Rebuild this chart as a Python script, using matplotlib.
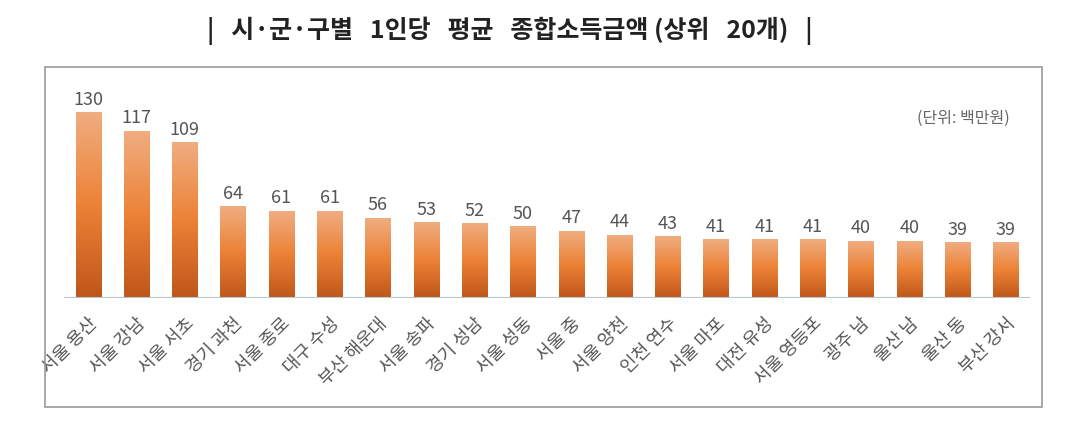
import numpy as np
import matplotlib.pyplot as plt
from matplotlib.colors import LinearSegmentedColormap
from matplotlib.patches import Rectangle

plt.rcParams['font.family'] = ['Noto Sans CJK KR', 'DejaVu Sans']

regions = ['서울 용산', '서울 강남', '서울 서초', '경기 과천', '서울 종로', '대구 수성',
           '부산 해운대', '서울 송파', '경기 성남', '서울 성동', '서울 중', '서울 양천',
           '인천 연수', '서울 마포', '대전 유성', '서울 영등포', '광주 남', '울산 남',
           '울산 동', '부산 강서']
income = [130, 117, 109, 64, 61, 61, 56, 53, 52, 50, 47, 44, 43, 41, 41, 41, 40, 40, 39, 39]

W, H = 1065, 427
fig = plt.figure(figsize=(W / 100, H / 100), dpi=100)

# outer frame
fig.add_artist(Rectangle((45 / W, 1 - 408 / H), (1042 - 45) / W, (408 - 68) / H,
                         transform=fig.transFigure, fill=False, ec='#9a9a9a', lw=1.2))

fig.text(510 / W, 1 - 31 / H, '|   시·군·구별   1인당   평균   종합소득금액 (상위   20개)   |',
         ha='center', va='center', fontsize=18, fontweight='bold', color='#222222')

ax = fig.add_axes([64 / W, 128 / H, 966 / W, 200 / H])
ax.set_xlim(-0.5, 19.5)
ax.set_ylim(0, 140.5)

cmap = LinearSegmentedColormap.from_list('bar', ['#bf561a', '#ec8236', '#f0ad80'])
grad = np.linspace(0, 1, 256).reshape(-1, 1)
bw = 0.52
for i, v in enumerate(income):
    ax.imshow(grad, cmap=cmap, origin='lower', aspect='auto',
              extent=(i - bw / 2, i + bw / 2, 0, v), zorder=2)
    ax.text(i, v + 3.5, str(v), ha='center', va='bottom', fontsize=13, color='#555555')

ax.axhline(0, color='#b8c4d0', lw=1.5, zorder=3)
ax.set_xlim(-0.5, 19.5)
ax.set_ylim(0, 140.5)
ax.set_xticks(range(len(regions)))
ax.set_xticklabels(regions, rotation=45, ha='right', rotation_mode='anchor',
                   fontsize=13, color='#555555')
ax.tick_params(axis='x', length=0, pad=11)
ax.set_yticks([])
for s in ax.spines.values():
    s.set_visible(False)
ax.patch.set_alpha(0)

fig.text(963 / W, 1 - 118 / H, '(단위: 백만원)', ha='center', va='center',
         fontsize=11.5, color='#666666')

fig.savefig('out.png', dpi=100)
